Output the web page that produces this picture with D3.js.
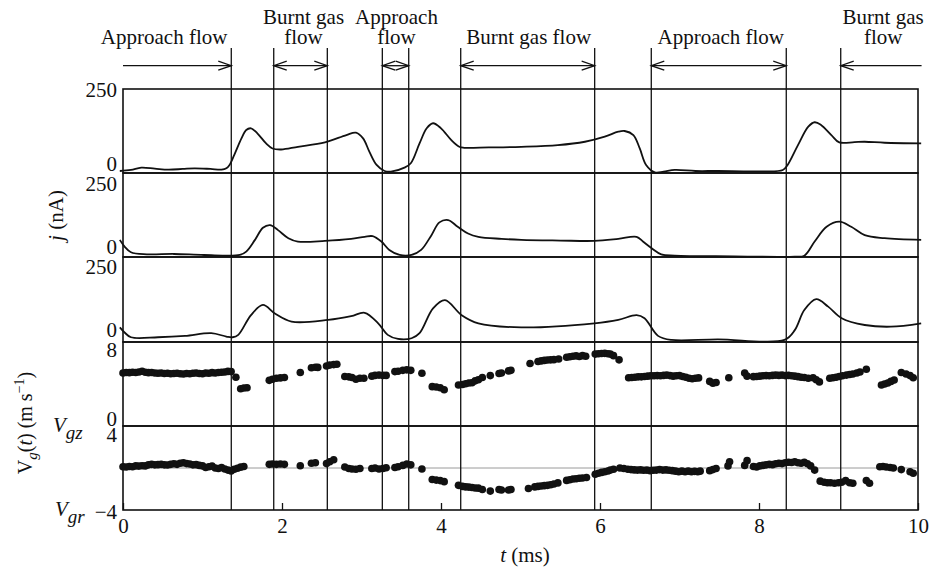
<!DOCTYPE html>
<html><head><meta charset="utf-8">
<script src="https://cdn.jsdelivr.net/npm/d3@7"></script>
<style>
body{margin:0;background:#fff;}
svg text{font-family:"Liberation Serif","Times New Roman",serif;fill:#111;}
</style></head><body>
<svg id="c" width="929" height="571"></svg>
<script>
// ---------- data ----------
const tDomain = [0, 10];
const xTicks = [0, 2, 4, 6, 8, 10];
const boundaryTimes = [1.362, 1.896, 2.570, 3.262, 3.594, 4.248, 5.933, 6.645, 8.343, 9.028];
const flowLabels = [["Approach flow"], ["Burnt gas", "flow"], ["Approach", "flow"], ["Burnt gas flow"], ["Approach flow"], ["Burnt gas", "flow"]];
const flowFrom = [0, 1.896, 3.262, 4.248, 6.645, 9.028];
const flowTo = [1.362, 2.570, 3.594, 5.933, 8.343, 10.045];
const flowHeads = ["end", "both", "both", "both", "both", "start"];

const jTicks = [0, 250];
const vzTicks = [0, 8];
const vrTicks = [-4, 4];

const j1 = [[-0.04,6],[0.10,9],[0.23,16],[0.40,13],[0.57,10],[0.75,12],[0.90,14],[1.10,12],[1.24,10],[1.30,14],[1.34,24],[1.40,54],[1.49,103],[1.55,128],[1.61,133],[1.69,118],[1.80,88],[1.88,73],[1.99,70],[2.20,78],[2.54,91],[2.81,113],[2.93,120],[3.02,103],[3.10,63],[3.19,24],[3.29,6],[3.37,4],[3.54,16],[3.62,29],[3.73,88],[3.82,133],[3.90,148],[4.00,133],[4.13,98],[4.23,78],[4.29,75],[4.60,76],[5.01,78],[5.47,83],[5.81,93],[6.06,108],[6.23,123],[6.31,125],[6.42,113],[6.50,73],[6.58,24],[6.69,2],[6.80,4],[6.94,9],[7.20,6],[7.48,6],[8.00,5],[8.30,9],[8.36,24],[8.49,83],[8.62,138],[8.70,151],[8.78,143],[8.91,113],[9.01,91],[9.20,92],[9.33,93],[9.58,90],[10.04,88]];
const j2 = [[-0.04,51],[0.02,31],[0.10,14],[0.30,8],[0.64,9],[1.02,6],[1.47,6],[1.55,16],[1.66,51],[1.76,87],[1.85,95],[1.95,80],[2.08,56],[2.20,46],[2.54,48],[2.87,54],[3.04,60],[3.14,62],[3.25,46],[3.35,21],[3.48,6],[3.63,6],[3.75,21],[3.88,65],[3.98,103],[4.09,110],[4.21,90],[4.34,70],[4.47,60],[4.76,54],[5.01,51],[5.50,49],[5.93,48],[6.23,54],[6.46,60],[6.54,46],[6.65,26],[6.77,8],[6.94,4],[7.69,2],[8.45,1],[8.57,4],[8.70,46],[8.85,90],[9.01,105],[9.16,90],[9.33,65],[9.58,56],[10.04,51]];
const j3 = [[-0.04,43],[0.02,28],[0.10,14],[0.44,14],[0.78,18],[1.11,26],[1.30,16],[1.38,14],[1.45,21],[1.61,79],[1.76,109],[1.91,84],[2.12,60],[2.58,65],[2.87,76],[3.04,86],[3.21,55],[3.33,21],[3.46,9],[3.63,11],[3.73,26],[3.90,99],[4.05,123],[4.26,79],[4.47,55],[5.01,43],[5.93,55],[6.23,65],[6.46,79],[6.56,70],[6.73,18],[6.90,6],[7.48,8],[8.32,6],[8.45,35],[8.57,94],[8.72,126],[8.87,104],[9.04,70],[9.33,50],[9.66,45],[10.04,55]];

const vgz = [[0.00,5.05],[0.04,5.10],[0.08,5.08],[0.12,5.12],[0.16,5.10],[0.20,5.15],[0.24,5.22],[0.28,5.12],[0.32,5.08],[0.36,5.10],[0.40,5.05],[0.44,5.02],[0.48,5.05],[0.52,5.00],[0.56,5.02],[0.60,4.98],[0.64,5.00],[0.68,5.02],[0.72,4.98],[0.76,4.95],[0.80,5.00],[0.84,4.98],[0.88,5.02],[0.92,5.05],[0.96,5.00],[1.00,4.98],[1.04,5.05],[1.08,5.02],[1.12,5.08],[1.16,5.05],[1.20,5.10],[1.24,5.12],[1.28,5.15],[1.32,5.20],[1.36,5.18],
[1.42,4.65],[1.48,3.55],[1.52,3.62],[1.56,3.65],
[1.84,4.35],[1.88,4.45],[1.93,4.55],[1.98,4.58],[2.03,4.62],
[2.23,5.10],[2.37,5.55],[2.42,5.60],[2.45,5.58],
[2.56,5.72],[2.60,5.80],[2.65,5.85],[2.69,5.88],
[2.79,4.72],[2.84,4.68],[2.88,4.62],[2.93,4.45],[2.98,4.55],[3.03,4.55],
[3.13,4.75],[3.17,4.82],[3.22,4.85],[3.27,4.82],[3.31,4.82],
[3.42,5.18],[3.46,5.22],[3.52,5.30],[3.57,5.35],[3.62,5.30],
[3.76,5.02],
[3.89,3.75],[3.94,3.72],[3.99,3.65],[4.04,3.45],
[4.22,3.90],[4.27,3.95],[4.31,4.02],[4.35,4.10],[4.39,4.12],[4.43,4.30],[4.47,4.40],[4.52,4.62],
[4.62,4.80],[4.73,5.00],[4.76,5.05],[4.85,5.25],[4.88,5.30],
[5.12,5.95],[5.22,6.15],[5.26,6.20],[5.30,6.25],[5.34,6.28],[5.38,6.30],[5.42,6.32],[5.48,6.38],
[5.58,6.55],[5.62,6.60],[5.66,6.65],[5.70,6.68],[5.74,6.62],[5.78,6.70],[5.82,6.65],
[5.94,6.85],[5.98,6.88],[6.02,6.90],[6.06,6.92],[6.10,6.88],[6.13,6.85],[6.17,6.70],[6.24,6.30],
[6.36,4.60],[6.40,4.62],[6.44,4.65],[6.48,4.68],[6.52,4.68],[6.56,4.72],[6.60,4.75],[6.64,4.78],[6.68,4.78],[6.72,4.80],[6.76,4.78],[6.80,4.82],[6.84,4.85],[6.88,4.80],[6.92,4.75],[6.96,4.78],[7.00,4.80],[7.04,4.72],[7.08,4.65],[7.12,4.55],[7.16,4.50],[7.20,4.55],[7.24,4.58],
[7.38,4.25],[7.42,4.08],[7.46,4.15],
[7.62,4.60],[7.82,5.05],[7.85,4.75],
[7.93,4.70],[7.97,4.72],[8.01,4.75],[8.05,4.78],[8.09,4.80],[8.13,4.78],[8.17,4.82],[8.21,4.85],[8.25,4.82],[8.29,4.85],[8.33,4.80],[8.37,4.82],[8.41,4.78],[8.45,4.75],[8.49,4.70],[8.53,4.65],[8.57,4.62],[8.62,4.55],[8.68,4.60],[8.72,4.40],[8.76,4.20],
[8.89,4.55],[8.93,4.60],[8.97,4.65],[9.01,4.72],[9.05,4.78],[9.10,4.85],[9.14,4.90],[9.18,4.95],[9.23,5.05],[9.27,5.15],[9.35,5.40],
[9.54,3.90],[9.58,4.00],[9.62,4.10],[9.66,4.25],[9.70,4.38],
[9.79,5.10],[9.85,4.95],[9.90,4.80],[9.94,4.60]];

const vgr = [[0.00,0.12],[0.04,0.10],[0.08,0.15],[0.12,0.12],[0.16,0.20],[0.20,0.18],[0.24,0.22],[0.28,0.20],[0.32,0.30],[0.36,0.35],[0.40,0.30],[0.44,0.32],[0.48,0.35],[0.52,0.30],[0.56,0.28],[0.60,0.35],[0.64,0.40],[0.68,0.35],[0.72,0.45],[0.76,0.50],[0.80,0.42],[0.84,0.38],[0.88,0.30],[0.92,0.32],[0.96,0.25],[1.00,0.20],[1.04,0.05],[1.08,0.12],[1.12,0.18],[1.16,0.00],[1.20,-0.05],[1.24,0.05],[1.28,-0.10],[1.32,-0.20],[1.36,-0.28],[1.40,-0.12],[1.44,-0.02],[1.48,0.08],[1.52,0.15],
[1.84,0.35],[1.88,0.38],[1.93,0.35],[1.98,0.38],[2.03,0.35],
[2.23,0.22],[2.37,0.45],[2.42,0.50],
[2.56,0.42],[2.60,0.60],[2.65,0.78],
[2.79,0.10],[2.84,-0.05],[2.88,-0.10],[2.93,-0.12],[2.98,-0.05],
[3.13,-0.05],[3.17,0.00],[3.22,-0.10],[3.27,-0.05],[3.31,0.02],
[3.42,0.05],[3.46,0.12],[3.52,0.25],[3.57,0.38],[3.62,0.30],
[3.76,-0.10],
[3.89,-1.10],[3.94,-1.15],[3.99,-1.20],[4.04,-1.30],
[4.22,-1.65],[4.27,-1.75],[4.31,-1.80],[4.35,-1.82],[4.39,-1.85],[4.43,-1.90],[4.47,-1.92],[4.52,-2.05],
[4.62,-2.20],[4.73,-2.05],[4.76,-2.10],[4.85,-2.10],[4.88,-2.05],
[5.10,-1.95],[5.18,-1.80],[5.22,-1.75],[5.26,-1.72],[5.30,-1.68],[5.34,-1.65],[5.38,-1.60],[5.42,-1.52],[5.47,-1.42],
[5.58,-1.18],[5.62,-1.12],[5.66,-1.05],[5.70,-1.02],[5.74,-0.98],[5.78,-0.95],[5.83,-0.90],
[5.94,-0.60],[5.98,-0.50],[6.02,-0.42],[6.06,-0.35],[6.10,-0.28],[6.13,-0.20],[6.17,-0.12],
[6.25,0.00],[6.30,-0.05],[6.35,-0.12],[6.39,-0.15],[6.43,-0.18],[6.47,-0.20],[6.51,-0.18],[6.55,-0.22],[6.59,-0.20],[6.63,-0.25],[6.67,-0.22],[6.71,-0.20],[6.75,-0.15],[6.79,-0.20],[6.83,-0.18],[6.87,-0.22],[6.91,-0.25],[6.95,-0.30],[6.99,-0.35],[7.03,-0.30],[7.07,-0.35],[7.11,-0.30],[7.15,-0.35],[7.19,-0.32],[7.23,-0.35],[7.26,-0.30],
[7.38,-0.25],[7.42,-0.15],[7.46,-0.05],
[7.61,0.20],[7.63,0.60],[7.82,0.25],[7.85,0.70],
[7.93,0.15],[7.97,0.10],[8.01,0.20],[8.05,0.25],[8.09,0.30],[8.13,0.35],[8.17,0.32],[8.21,0.40],[8.25,0.45],[8.29,0.42],[8.33,0.50],[8.37,0.55],[8.41,0.52],[8.45,0.60],[8.49,0.50],[8.53,0.45],[8.57,0.55],[8.61,0.40],[8.65,0.20],[8.70,-0.20],
[8.77,-1.25],[8.82,-1.35],[8.86,-1.40],[8.90,-1.40],[8.95,-1.45],[9.00,-1.40],[9.04,-1.35],[9.09,-1.20],[9.14,-1.40],[9.18,-1.45],[9.35,-1.20],[9.39,-1.45],
[9.52,0.12],[9.56,0.15],[9.60,0.10],[9.65,0.05],[9.69,0.00],
[9.79,-0.15],[9.90,-0.35],[9.94,-0.50]];

// ---------- layout ----------
const W = 929, H = 571;
const X0 = 123, X1 = 918;
const FONT = 21;
const svg = d3.select("#c");
const x = d3.scaleLinear().domain(tDomain).range([X0, X1]);

const panels = [
  {top: 89,  bottom: 173, domain: [0, 250], ticks: jTicks,  off: [-9.5, 1],   kind: "line", data: j1},
  {top: 173, bottom: 257, domain: [0, 250], ticks: jTicks,  off: [-10.5, 10.5], kind: "line", data: j2},
  {top: 257, bottom: 342, domain: [0, 250], ticks: jTicks,  off: [-12, 9.7], kind: "line", data: j3},
  {top: 342, bottom: 426, domain: [0, 8],   ticks: vzTicks, off: [-7.5, 8],  kind: "dots", data: vgz},
  {top: 426, bottom: 510, domain: [-4, 4],  ticks: vrTicks, off: [1.5, 9],   kind: "dots", data: vgr, zero: true}
];

panels.forEach(p => {
  p.y = d3.scaleLinear().domain(p.domain).range([p.bottom, p.top]);
  const g = svg.append("g");
  if (p.zero) {
    g.append("line").attr("x1", X0).attr("x2", X1)
      .attr("y1", p.y(0)).attr("y2", p.y(0))
      .attr("stroke", "#9a9a9a").attr("stroke-width", 1);
  }
  // tick labels
  p.ticks.forEach((v, i) => {
    svg.append("text")
      .attr("x", 117).attr("y", p.y(v) + p.off[i] + 7)
      .attr("text-anchor", "end").attr("font-size", FONT)
      .text(v < 0 ? "\u2212" + Math.abs(v) : String(v));
  });
});

// vertical boundary lines
svg.append("g").selectAll("line").data(boundaryTimes).join("line")
  .attr("x1", d => x(d)).attr("x2", d => x(d))
  .attr("y1", 48).attr("y2", 510)
  .attr("stroke", "#111").attr("stroke-width", 1.3);

// frames
panels.forEach(p => {
  svg.append("rect").attr("x", X0).attr("y", p.top)
    .attr("width", X1 - X0).attr("height", p.bottom - p.top)
    .attr("fill", "none").attr("stroke", "#111").attr("stroke-width", 1.6);
});

// data marks
panels.forEach(p => {
  if (p.kind === "line") {
    const line = d3.line().x(d => x(d[0])).y(d => p.y(d[1]))
      .curve(d3.curveCatmullRom.alpha(0.5));
    svg.append("path").datum(p.data).attr("d", line)
      .attr("fill", "none").attr("stroke", "#111").attr("stroke-width", 1.8)
      .attr("stroke-linejoin", "round");
  } else {
    svg.append("g").selectAll("circle").data(p.data).join("circle")
      .attr("cx", d => x(d[0])).attr("cy", d => p.y(d[1])).attr("r", 3.8)
      .attr("fill", "#111");
  }
});

// x axis
const xAxis = d3.axisBottom(x).tickValues(xTicks)
  .tickSizeInner(-7).tickSizeOuter(0).tickPadding(8);
const ax = svg.append("g").attr("transform", `translate(0,510)`).call(xAxis);
ax.select(".domain").remove();
ax.selectAll(".tick line").attr("stroke", "#111").attr("stroke-width", 1.3);
ax.selectAll(".tick text").attr("font-size", FONT)
  .attr("font-family", "Liberation Serif, Times New Roman, serif").attr("fill", "#111");

// flow arrows
const AY = 65.7;
const labelDx = [-13, 3, 1, 1, 2, 2];
function head(xp, dir) {
  const L = 13, h = 4.5;
  return `M${xp - dir * L},${AY - h}L${xp},${AY}L${xp - dir * L},${AY + h}`;
}
flowFrom.forEach((f, i) => {
  const xa = x(f), xb = x(flowTo[i]);
  svg.append("line").attr("x1", xa).attr("x2", xb).attr("y1", AY).attr("y2", AY)
    .attr("stroke", "#111").attr("stroke-width", 1.3);
  const hs = flowHeads[i];
  if (hs === "end" || hs === "both")
    svg.append("path").attr("d", head(xb, 1)).attr("fill", "none").attr("stroke", "#111").attr("stroke-width", 1.3);
  if (hs === "start" || hs === "both")
    svg.append("path").attr("d", head(xa, -1)).attr("fill", "none").attr("stroke", "#111").attr("stroke-width", 1.3);
  const cx = (xa + xb) / 2 + labelDx[i];
  const lines = flowLabels[i];
  lines.forEach((s, k) => {
    const base = lines.length === 2 ? (k === 0 ? 24 : 44) : 44;
    svg.append("text").attr("x", cx).attr("y", base)
      .attr("text-anchor", "middle").attr("font-size", FONT).text(s);
  });
});

// axis titles
const tt = svg.append("text").attr("x", 525).attr("y", 562)
  .attr("text-anchor", "middle").attr("font-size", FONT);
tt.append("tspan").attr("font-style", "italic").text("t");
tt.append("tspan").text(" (ms)");

const jt = svg.append("text").attr("transform", "translate(63,215.5) rotate(-90)")
  .attr("text-anchor", "middle").attr("font-size", FONT);
jt.append("tspan").attr("font-style", "italic").text("j");
jt.append("tspan").text(" (nA)");

const vt = svg.append("text").attr("transform", "translate(32,423) rotate(-90)")
  .attr("text-anchor", "middle").attr("font-size", 20);
vt.append("tspan").text("V");
vt.append("tspan").attr("font-style", "italic").attr("font-size", 15).attr("dy", 5).text("g");
vt.append("tspan").attr("dy", -5).text("(");
vt.append("tspan").attr("font-style", "italic").text("t");
vt.append("tspan").text(") (m s");
vt.append("tspan").attr("font-size", 14).attr("dy", -8).text("\u22121");
vt.append("tspan").attr("dy", 8).text(")");

function vlabel(xp, yp, sub) {
  const t = svg.append("text").attr("x", xp).attr("y", yp).attr("font-size", FONT)
    .attr("font-style", "italic");
  t.append("tspan").text("V");
  t.append("tspan").attr("dy", 7).attr("font-size", 19).text(sub);
}
vlabel(53, 432, "gz");
vlabel(55, 516, "gr");
</script>
</body></html>
